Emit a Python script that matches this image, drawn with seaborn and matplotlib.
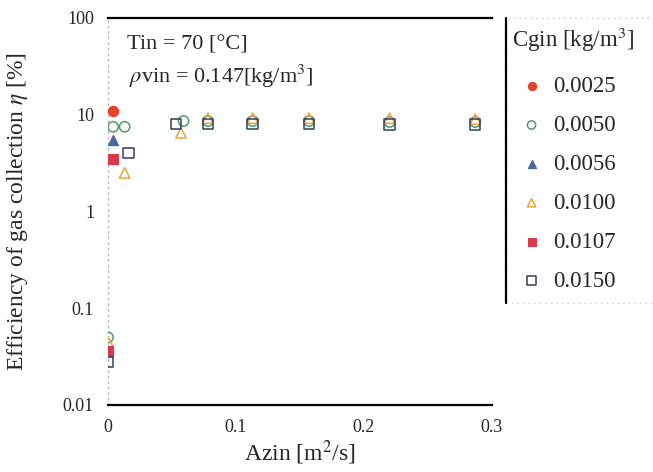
import matplotlib
matplotlib.use("Agg")
import matplotlib.pyplot as plt
import seaborn as sns
from matplotlib.lines import Line2D
from matplotlib.patches import Rectangle

# Values
labels = ["0.0025", "0.0050", "0.0056", "0.0100", "0.0107", "0.0150"]

x_0025 = [0.004]
y_0025 = [11.0]

x_0050 = [0.0, 0.004, 0.013, 0.059, 0.078, 0.113, 0.157, 0.220, 0.287]
y_0050 = [0.050, 7.5, 7.5, 8.6, 8.6, 8.6, 8.6, 8.4, 8.4]

x_0056 = [0.004]
y_0056 = [5.5]

x_0100 = [0.0, 0.013, 0.057, 0.078, 0.113, 0.157, 0.220, 0.287]
y_0100 = [0.045, 2.5, 6.5, 9.2, 9.2, 9.2, 9.2, 9.0]

x_0107 = [0.0, 0.004]
y_0107 = [0.036, 3.5]

x_0150 = [0.0, 0.016, 0.053, 0.078, 0.113, 0.157, 0.220, 0.287]
y_0150 = [0.028, 4.0, 8.0, 8.0, 8.0, 8.0, 7.9, 7.9]

x_ticks = [0, 0.1, 0.2, 0.3]
x_tick_labels = ["0", "0.1", "0.2", "0.3"]
y_ticks = [0.01, 0.1, 1, 10, 100]
y_tick_labels = ["0.01", "0.1", "1", "10", "100"]

sns.set_style("white")
plt.rcParams["font.family"] = ["Liberation Serif", "DejaVu Serif"]
plt.rcParams["mathtext.fontset"] = "stix"

fig = plt.figure(figsize=(6.53, 4.72), dpi=100)
ax = fig.add_axes([0.1654, 0.142, 0.588, 0.820])

series = [
    (x_0025, y_0025, "o", "#e5432c", True),
    (x_0050, y_0050, "o", "#4f9a68", False),
    (x_0056, y_0056, "^", "#46689a", True),
    (x_0100, y_0100, "^", "#f0a33a", False),
    (x_0107, y_0107, "s", "#d8394c", True),
    (x_0150, y_0150, "s", "#2f3f5f", False),
]

for (xs, ys, mk, col, filled), lab in zip(series, labels):
    if filled:
        sns.scatterplot(x=xs, y=ys, ax=ax, marker=mk, s=55, color=col,
                        edgecolor=col, linewidth=0.8, label=lab, zorder=3)
    else:
        sns.scatterplot(x=xs, y=ys, ax=ax, marker=mk, s=55, facecolors="none",
                        edgecolors=col, linewidth=1.1, label=lab, zorder=3)

ax.set_yscale("log")
ax.set_xlim(0, 0.3)
ax.set_ylim(0.01, 100)
ax.set_xticks(x_ticks)
ax.set_xticklabels(x_tick_labels)
ax.set_yticks(y_ticks)
ax.set_yticklabels(y_tick_labels)
ax.minorticks_off()
ax.tick_params(axis="both", length=0, labelsize=13, pad=10)

ax.set_xlabel("Azin [m$^2$/s]", fontsize=17, labelpad=2)
ax.set_ylabel("Efficiency of gas collection $\\eta$ [%]", fontsize=17, labelpad=24)

for side in ["top", "bottom"]:
    ax.spines[side].set_color("black")
    ax.spines[side].set_linewidth(1.6)
ax.spines["right"].set_visible(False)
ax.spines["left"].set_color("#bbbbbb")
ax.spines["left"].set_linestyle((0, (1, 3)))
ax.spines["left"].set_linewidth(1.0)

ax.text(0.05, 0.955, "Tin = 70 [°C]", transform=ax.transAxes, fontsize=16,
        va="top", ha="left")
ax.text(0.055, 0.885, "$\\rho$vin = 0.147[kg/m$^3$]", transform=ax.transAxes,
        fontsize=16, va="top", ha="left")

# legend box: solid left edge, dotted elsewhere
fig.add_artist(Rectangle((0.775, 0.358), 0.3, 0.604, transform=fig.transFigure,
                         facecolor="none", edgecolor="#cccccc", linewidth=1.0,
                         linestyle=(0, (1, 3))))
fig.add_artist(Line2D([0.775, 0.775], [0.358, 0.962], transform=fig.transFigure,
                      color="black", linewidth=1.6))
fig.text(512 / 653, 1 - 40 / 472, "Cgin [kg/m$^3$]", fontsize=16.5,
         ha="left", va="center")

leg = ax.legend(loc="upper left", bbox_to_anchor=(0.775 + 14 / 653, 1 - 76 / 472),
                bbox_transform=fig.transFigure, fontsize=16.5, frameon=False,
                labelspacing=0.78, handlelength=1.0, handletextpad=0.45,
                borderpad=0.0, borderaxespad=0, markerscale=0.8)

fig.savefig("out.png", dpi=100)
